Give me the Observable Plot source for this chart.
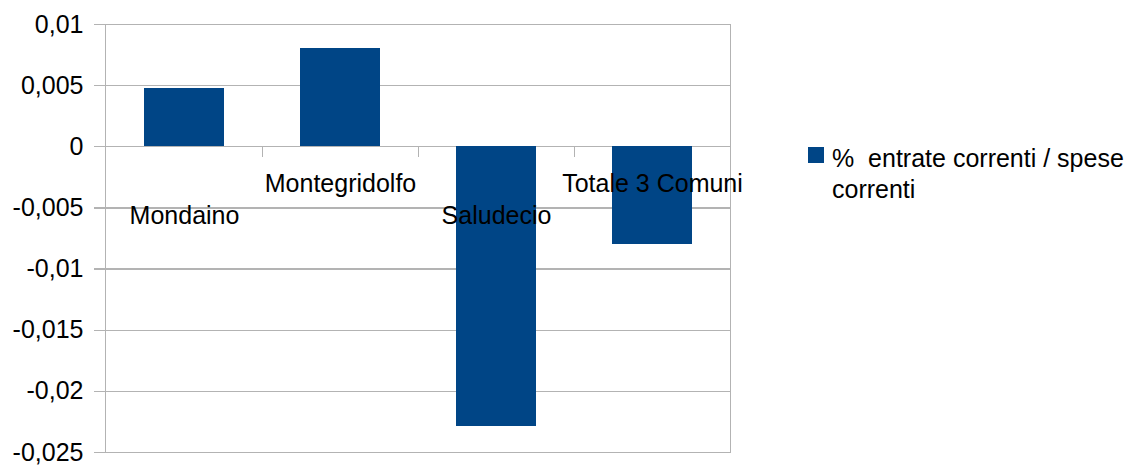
<!DOCTYPE html>
<html>
<head>
<meta charset="utf-8">
<script src="https://cdn.jsdelivr.net/npm/d3@7"></script>
<script src="https://cdn.jsdelivr.net/npm/@observablehq/plot@0.6"></script>
<style>
  html, body { margin: 0; padding: 0; background: #fff; }
  #wrap { position: relative; width: 1142px; height: 465px; font-family: "Liberation Sans", Arial, sans-serif; }
  #legend { position: absolute; left: 808px; top: 143px; font-size: 25px; line-height: 31px; color: #000; }
  #legend .sw { position: absolute; left: 0; top: 4px; width: 16px; height: 16px; background: #004586; }
  #legend .tx { position: absolute; left: 24px; top: 0; white-space: nowrap; }
</style>
</head>
<body>
<div id="wrap"><div id="legend"><div class="sw"></div><div class="tx">%&nbsp; entrate correnti / spese<br>correnti</div></div></div>
<script>
const categories = ["Mondaino", "Montegridolfo", "Saludecio", "Totale 3 Comuni"];
const values = [0.0048, 0.0080, -0.0229, -0.0080];
const seriesName = "%  entrate correnti / spese correnti";
const yTicks = [0.01, 0.005, 0, -0.005, -0.01, -0.015, -0.02, -0.025];

const data = categories.map((c, i) => ({cat: c, value: values[i], i}));
const W = 1142, H = 465, ML = 105, MR = 412, MT = 24, MB = 13;
const step = (W - ML - MR) / categories.length;
const fmt = d => d === 0 ? "0" : String(+d.toFixed(3)).replace(".", ",");
const grid = "#b3b3b3";

const chart = Plot.plot({
  width: W, height: H,
  marginLeft: ML, marginRight: MR, marginTop: MT, marginBottom: MB,
  style: {fontFamily: "Liberation Sans, Arial, sans-serif", fontSize: "25px", color: "#000", background: "#fff"},
  x: {domain: categories, paddingInner: 0.49, paddingOuter: 0.245, axis: null},
  y: {domain: [-0.025, 0.01], axis: null},
  marks: [
    Plot.ruleY(yTicks, {stroke: grid, strokeWidth: 1.3, insetLeft: -11, shapeRendering: "crispEdges"}),
    Plot.frame({stroke: grid, strokeWidth: 1.3, shapeRendering: "crispEdges"}),
    Plot.ruleX(categories.slice(1), {x: d => d, dx: -step / 2, y1: 0, y2: -0.0009, stroke: grid, strokeWidth: 1.3, shapeRendering: "crispEdges"}),
    Plot.barY(data, {x: "cat", y: "value", fill: "#004586", shapeRendering: "crispEdges"}),
    Plot.axisY(yTicks, {tickSize: 0, tickPadding: 22, tickFormat: fmt, fontSize: 25, fill: "#000", label: null}),
    Plot.text(data.filter(d => d.i % 2 === 0), {x: "cat", y: 0, text: "cat", dy: 69, fontSize: 25, fill: "#000"}),
    Plot.text(data.filter(d => d.i % 2 === 1), {x: "cat", y: 0, text: "cat", dy: 37, fontSize: 25, fill: "#000"})
  ]
});
chart.style.position = "absolute";
chart.style.left = "0";
chart.style.top = "0";
document.getElementById("wrap").prepend(chart);
</script>
</body>
</html>
